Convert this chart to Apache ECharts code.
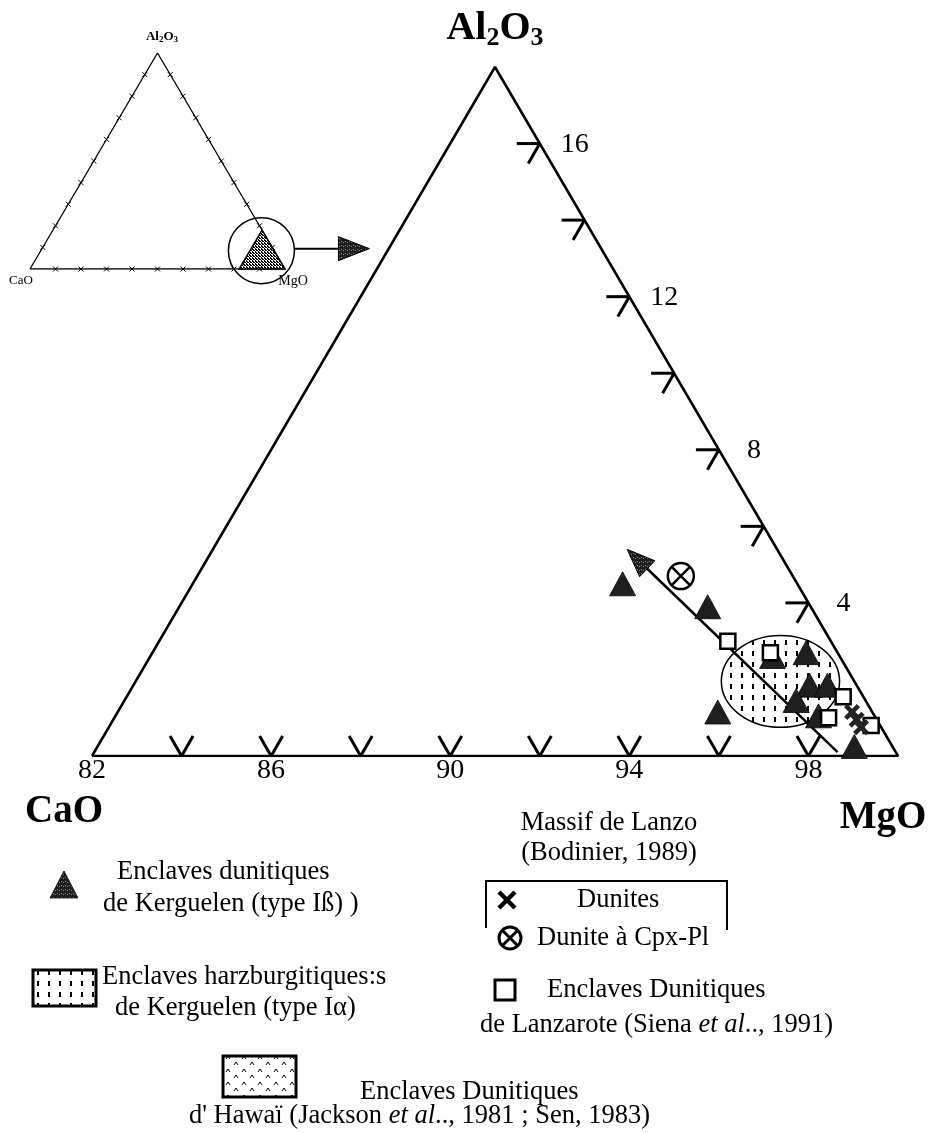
<!DOCTYPE html>
<html><head><meta charset="utf-8">
<script src="https://cdn.jsdelivr.net/npm/echarts@6/dist/echarts.min.js"></script>
<style>html,body{margin:0;padding:0;background:#fff}#c{width:930px;height:1133px}</style>
</head><body><div id="c"></div>
<script>
// ---------- DATA (compositions as [MgO, Al2O3] wt%) ----------
const mgoTicks = [84, 86, 88, 90, 92, 94, 96, 98];
const mgoTickLabels = [82, 86, 90, 94, 98];
const alTicks = [16, 14, 12, 10, 8, 6, 4];
const alTickLabels = [16, 12, 8, 4];
const corners = [[82, 0], [100, 0], [82, 18]];           // CaO, MgO, Al2O3 corners
const kerguelenDunites = [[91.6, 4.5], [93.8, 3.9], [95.4, 1.15], [96.6, 2.7], [95.9, 2.6],
  [97.1, 1.85], [97.5, 1.85], [97.0, 1.45], [97.7, 1.05], [98.9, 0.25]];
const lanzaroteDunites = [[94.7, 3.0], [95.8, 2.7], [98.0, 1.55], [97.95, 1.0], [99.0, 0.8]];
const lanzoDunites = [[98.4, 1.15], [98.6, 0.95], [98.8, 0.75]];
const lanzoCpxPl = [[92.8, 4.7]];
const trendLine = [[98.6, 0.1], [91.25, 5.4]];
const harzFieldCenter = [96.4, 1.95];
const harzFieldSemiAxes = [1.32, 1.2];
const insetTicks = [10, 20, 30, 40, 50, 60, 70, 80, 90];
const insetCorners = [[0, 0], [100, 0], [0, 100]];
const insetZoomCenter = [86.5, 8.5];

// ternary -> cartesian (X = MgO + Al2O3/2, Y = Al2O3)
const toXY = p => [p[0] + p[1] / 2, p[1]];

const serif = '"Liberation Serif", "Times New Roman", serif';

function makePattern(w, h, bg, draw) {
  const c = document.createElement('canvas'); c.width = w; c.height = h;
  const g = c.getContext('2d'); g.fillStyle = bg; g.fillRect(0, 0, w, h); draw(g); return c;
}
const stipple = { image: makePattern(4, 4, '#1f1f1f', g => { g.fillStyle = '#8a8a8a'; g.fillRect(1, 1, 1, 1); g.fillRect(3, 2, 1, 1); }), repeat: 'repeat' };
const dashPat = { image: makePattern(11, 11, '#fff', g => { g.fillStyle = '#000'; g.fillRect(4, 2, 2, 5); }), repeat: 'repeat' };
const hatchPat = { image: makePattern(3, 3, '#fff', g => { g.fillStyle = '#000'; g.fillRect(0, 0, 2, 1); g.fillRect(1, 1, 2, 1); g.fillRect(0, 2, 1, 1); }), repeat: 'repeat' };
const caretPat = { image: makePattern(16, 13, '#fff', g => {
  g.strokeStyle = '#000'; g.lineWidth = 1;
  g.beginPath(); g.moveTo(2, 6); g.lineTo(4, 3); g.lineTo(6, 6); g.moveTo(10, 12); g.lineTo(12, 9); g.lineTo(14, 12); g.stroke();
}), repeat: 'repeat' };

const crossPath = 'path://M2,0 L5,3 L8,0 L10,2 L7,5 L10,8 L8,10 L5,7 L2,10 L0,8 L3,5 L0,2 Z';

const chart = echarts.init(document.getElementById('c'), null, { renderer: 'canvas' });

function txt(x, y, text, font, align, rich) {
  const st = { text, font, fill: '#000', align: align || 'left', verticalAlign: 'middle' };
  if (rich) st.rich = rich;
  return { type: 'text', x, y, style: st, z: 100 };
}

const rich26 = {
  n: { fontSize: 26.5, fontFamily: serif },
  i: { fontSize: 26.5, fontFamily: serif, fontStyle: 'italic' }
};

const option = {
  animation: false,
  backgroundColor: '#fff',
  grid: [
    { left: 92, top: 67, width: 806, height: 689 },
    { left: 30, top: 53, width: 255, height: 216 }
  ],
  xAxis: [
    { gridIndex: 0, type: 'value', min: 82, max: 100, show: false },
    { gridIndex: 1, type: 'value', min: 0, max: 100, show: false }
  ],
  yAxis: [
    { gridIndex: 0, type: 'value', min: 0, max: 18, show: false },
    { gridIndex: 1, type: 'value', min: 0, max: 100, show: false }
  ],
  series: [
    // main triangle frame
    { type: 'line', xAxisIndex: 0, yAxisIndex: 0, data: [...corners, corners[0]].map(toXY),
      symbol: 'none', lineStyle: { color: '#000', width: 2.5 }, silent: true, z: 2 },
    // bottom (MgO) V ticks
    { type: 'custom', xAxisIndex: 0, yAxisIndex: 0, silent: true, z: 3,
      data: mgoTicks.map(v => toXY([v, 0])),
      renderItem: (p, api) => {
        const c = api.coord([api.value(0), api.value(1)]); const L = 23, dx = L * 0.5, dy = L * 0.866;
        const s = { stroke: '#000', lineWidth: 3 };
        return { type: 'group', children: [
          { type: 'line', shape: { x1: c[0], y1: c[1], x2: c[0] - dx, y2: c[1] - dy }, style: s },
          { type: 'line', shape: { x1: c[0], y1: c[1], x2: c[0] + dx, y2: c[1] - dy }, style: s }] };
      } },
    // right (Al2O3) ticks
    { type: 'custom', xAxisIndex: 0, yAxisIndex: 0, silent: true, z: 3,
      data: alTicks.map(a => toXY([100 - a, a])),
      renderItem: (p, api) => {
        const c = api.coord([api.value(0), api.value(1)]); const L = 23;
        const s = { stroke: '#000', lineWidth: 3 };
        return { type: 'group', children: [
          { type: 'line', shape: { x1: c[0], y1: c[1], x2: c[0] - L, y2: c[1] }, style: s },
          { type: 'line', shape: { x1: c[0], y1: c[1], x2: c[0] - L * 0.5, y2: c[1] + L * 0.866 }, style: s }] };
      } },
    // bottom tick labels
    { type: 'custom', xAxisIndex: 0, yAxisIndex: 0, silent: true, z: 3,
      data: mgoTickLabels.map(v => [...toXY([v, 0]), v]),
      renderItem: (p, api) => {
        const c = api.coord([api.value(0), api.value(1)]);
        return { type: 'text', x: c[0], y: c[1] + 15, style: { text: String(api.value(2)), font: '28px ' + serif, fill: '#000', align: 'center', verticalAlign: 'middle' } };
      } },
    // right tick labels
    { type: 'custom', xAxisIndex: 0, yAxisIndex: 0, silent: true, z: 3,
      data: alTickLabels.map(a => [...toXY([100 - a, a]), a]),
      renderItem: (p, api) => {
        const c = api.coord([api.value(0), api.value(1)]);
        return { type: 'text', x: c[0] + 35, y: c[1] + 1, style: { text: String(api.value(2)), font: '28px ' + serif, fill: '#000', align: 'center', verticalAlign: 'middle' } };
      } },
    // harzburgite field (Kerguelen type I alpha)
    { type: 'custom', xAxisIndex: 0, yAxisIndex: 0, silent: true, z: 4,
      data: [[...toXY(harzFieldCenter), ...harzFieldSemiAxes]],
      renderItem: (p, api) => {
        const c = api.coord([api.value(0), api.value(1)]);
        const rx = api.size([api.value(2), 0])[0], ry = api.size([0, api.value(3)])[1];
        return { type: 'ellipse', shape: { cx: c[0], cy: c[1], rx, ry }, style: { fill: dashPat, stroke: '#000', lineWidth: 1.5 } };
      } },
    // trend arrow
    { type: 'custom', xAxisIndex: 0, yAxisIndex: 0, silent: true, z: 5,
      data: [[...toXY(trendLine[0]), ...toXY(trendLine[1])]],
      renderItem: (p, api) => {
        const a = api.coord([api.value(0), api.value(1)]), b = api.coord([api.value(2), api.value(3)]);
        const dx = b[0] - a[0], dy = b[1] - a[1], len = Math.hypot(dx, dy), ux = dx / len, uy = dy / len;
        const H = 28, W = 11; const bx = b[0] - ux * H, by = b[1] - uy * H;
        return { type: 'group', children: [
          { type: 'line', shape: { x1: a[0], y1: a[1], x2: bx, y2: by }, style: { stroke: '#000', lineWidth: 2.5 } },
          { type: 'polygon', shape: { points: [[b[0], b[1]], [bx - uy * W, by + ux * W], [bx + uy * W, by - ux * W]] }, style: { fill: stipple, stroke: '#000', lineWidth: 1 } }] };
      } },
    // Kerguelen dunites (type I beta)
    { type: 'scatter', xAxisIndex: 0, yAxisIndex: 0, data: kerguelenDunites.map(toXY), z: 6,
      symbol: 'triangle', symbolSize: [26, 24], itemStyle: { color: stipple, borderColor: '#000', borderWidth: 0.8, opacity: 1 } },
    // Lanzarote dunites
    { type: 'scatter', xAxisIndex: 0, yAxisIndex: 0, data: lanzaroteDunites.map(toXY), z: 7,
      symbol: 'rect', symbolSize: 15, itemStyle: { color: '#fff', borderColor: '#000', borderWidth: 2.5, opacity: 1 } },
    // Lanzo dunites
    { type: 'scatter', xAxisIndex: 0, yAxisIndex: 0, data: lanzoDunites.map(toXY), z: 8,
      symbol: crossPath, symbolSize: 16, itemStyle: { color: '#222', opacity: 1 } },
    // Lanzo dunite with Cpx-Pl
    { type: 'custom', xAxisIndex: 0, yAxisIndex: 0, silent: true, z: 8,
      data: lanzoCpxPl.map(toXY),
      renderItem: (p, api) => {
        const c = api.coord([api.value(0), api.value(1)]); const r = 13, k = r * 0.72;
        const s = { stroke: '#000', lineWidth: 2.5 };
        return { type: 'group', children: [
          { type: 'circle', shape: { cx: c[0], cy: c[1], r }, style: { fill: '#fff', stroke: '#000', lineWidth: 2.5 } },
          { type: 'line', shape: { x1: c[0] - k, y1: c[1] - k, x2: c[0] + k, y2: c[1] + k }, style: s },
          { type: 'line', shape: { x1: c[0] - k, y1: c[1] + k, x2: c[0] + k, y2: c[1] - k }, style: s }] };
      } },

    // ---------- inset ----------
    { type: 'line', xAxisIndex: 1, yAxisIndex: 1, data: [...insetCorners, insetCorners[0]].map(toXY),
      symbol: 'none', lineStyle: { color: '#000', width: 1.3 }, silent: true, z: 2 },
    { type: 'custom', xAxisIndex: 1, yAxisIndex: 1, silent: true, z: 3,
      data: [[...corners.map(toXY).flat()]],
      renderItem: (p, api) => {
        const pts = [0, 1, 2].map(i => api.coord([api.value(2 * i), api.value(2 * i + 1)]));
        return { type: 'polygon', shape: { points: pts }, style: { fill: hatchPat, stroke: '#000', lineWidth: 1.5 } };
      } },
    { type: 'custom', xAxisIndex: 1, yAxisIndex: 1, silent: true, z: 3,
      data: insetTicks.flatMap(t => [toXY([t, 0]), toXY([100 - t, t]), toXY([0, t])]),
      renderItem: (p, api) => {
        const c = api.coord([api.value(0), api.value(1)]); const k = 2.5;
        const s = { stroke: '#000', lineWidth: 1 };
        return { type: 'group', children: [
          { type: 'line', shape: { x1: c[0] - k, y1: c[1] - k, x2: c[0] + k, y2: c[1] + k }, style: s },
          { type: 'line', shape: { x1: c[0] - k, y1: c[1] + k, x2: c[0] + k, y2: c[1] - k }, style: s }] };
      } },
    { type: 'custom', xAxisIndex: 1, yAxisIndex: 1, silent: true, z: 4, clip: false,
      data: [toXY(insetZoomCenter)],
      renderItem: (p, api) => {
        const c = api.coord([api.value(0), api.value(1)]); const r = 33;
        const x0 = c[0] + r, y0 = c[1] - 2, tip = x0 + 75, H = 31, W = 12;
        return { type: 'group', children: [
          { type: 'circle', shape: { cx: c[0], cy: c[1], r }, style: { fill: 'none', stroke: '#000', lineWidth: 1.5 } },
          { type: 'line', shape: { x1: x0, y1: y0, x2: tip - H, y2: y0 }, style: { stroke: '#000', lineWidth: 2 } },
          { type: 'polygon', shape: { points: [[tip, y0], [tip - H, y0 - W], [tip - H, y0 + W]] }, style: { fill: stipple, stroke: '#000', lineWidth: 1 } }] };
      } }
  ],
  graphic: { elements: [
    // main axis titles
    txt(495, 29, '{a|Al}{s|2}{a|O}{s|3}', 'bold 40px ' + serif, 'center', {
      a: { fontSize: 40, fontWeight: 'bold', fontFamily: serif, lineHeight: 44 },
      s: { fontSize: 26, fontWeight: 'bold', fontFamily: serif, lineHeight: 26, padding: [18, 0, 0, 0] } }),
    txt(64, 812, 'CaO', 'bold 39px ' + serif, 'center'),
    txt(883, 818, 'MgO', 'bold 39px ' + serif, 'center'),
    // inset titles
    txt(162, 37, '{a|Al}{s|2}{a|O}{s|3}', 'bold 13px ' + serif, 'center', {
      a: { fontSize: 13, fontWeight: 'bold', fontFamily: serif, lineHeight: 14 },
      s: { fontSize: 9, fontWeight: 'bold', fontFamily: serif, lineHeight: 9, padding: [6, 0, 0, 0] } }),
    txt(21, 281, 'CaO', '13px ' + serif, 'center'),
    txt(293, 281, 'MgO', '14px ' + serif, 'center'),

    // legend: Kerguelen dunites
    { type: 'polygon', shape: { points: [[50, 898], [78, 898], [64, 871]] }, style: { fill: stipple, stroke: '#000', lineWidth: 0.8 } },
    txt(117, 872, 'Enclaves dunitiques', '26.5px ' + serif),
    txt(103, 904, 'de Kerguelen (type Iß) )', '26.5px ' + serif),
    // legend: harzburgites
    { type: 'rect', shape: { x: 33, y: 970, width: 63, height: 36 }, style: { fill: dashPat, stroke: '#000', lineWidth: 3 } },
    txt(102, 977, 'Enclaves harzburgitiques:s', '26.5px ' + serif),
    txt(115, 1008, 'de Kerguelen (type I\u03b1)', '26.5px ' + serif),
    // legend: Lanzo
    txt(609, 823, 'Massif de Lanzo', '26.5px ' + serif, 'center'),
    txt(609, 853, '(Bodinier, 1989)', '26.5px ' + serif, 'center'),
    { type: 'polyline', shape: { points: [[486, 928], [486, 881], [727, 881], [727, 930]] }, style: { fill: 'none', stroke: '#000', lineWidth: 2 } },
    { type: 'group', children: [
      { type: 'line', shape: { x1: 499, y1: 892, x2: 515, y2: 908 }, style: { stroke: '#000', lineWidth: 4.5 } },
      { type: 'line', shape: { x1: 499, y1: 908, x2: 515, y2: 892 }, style: { stroke: '#000', lineWidth: 4.5 } }] },
    txt(577, 900, 'Dunites', '26.5px ' + serif),
    { type: 'group', children: [
      { type: 'circle', shape: { cx: 510, cy: 938, r: 11 }, style: { fill: '#fff', stroke: '#000', lineWidth: 3 } },
      { type: 'line', shape: { x1: 503, y1: 931, x2: 517, y2: 945 }, style: { stroke: '#000', lineWidth: 3 } },
      { type: 'line', shape: { x1: 503, y1: 945, x2: 517, y2: 931 }, style: { stroke: '#000', lineWidth: 3 } }] },
    txt(537, 938, 'Dunite \u00e0 Cpx-Pl', '26.5px ' + serif),
    // legend: Lanzarote
    { type: 'rect', shape: { x: 495, y: 980, width: 20, height: 20 }, style: { fill: '#fff', stroke: '#000', lineWidth: 3 } },
    txt(547, 990, 'Enclaves Dunitiques', '26.5px ' + serif),
    txt(480, 1025, '{n|de Lanzarote (Siena }{i|et al}{n|.., 1991)}', '26.5px ' + serif, 'left', rich26),
    // legend: Hawaii
    { type: 'rect', shape: { x: 223, y: 1056, width: 73, height: 41 }, style: { fill: caretPat, stroke: '#000', lineWidth: 3 } },
    txt(360, 1092, 'Enclaves Dunitiques', '26.5px ' + serif),
    txt(650, 1116, '{n|d\' Hawa\u00ef (Jackson }{i|et al}{n|.., 1981 ; Sen, 1983)}', '26.5px ' + serif, 'right', rich26)
  ] }
};
chart.setOption(option);
</script>
</body></html>
